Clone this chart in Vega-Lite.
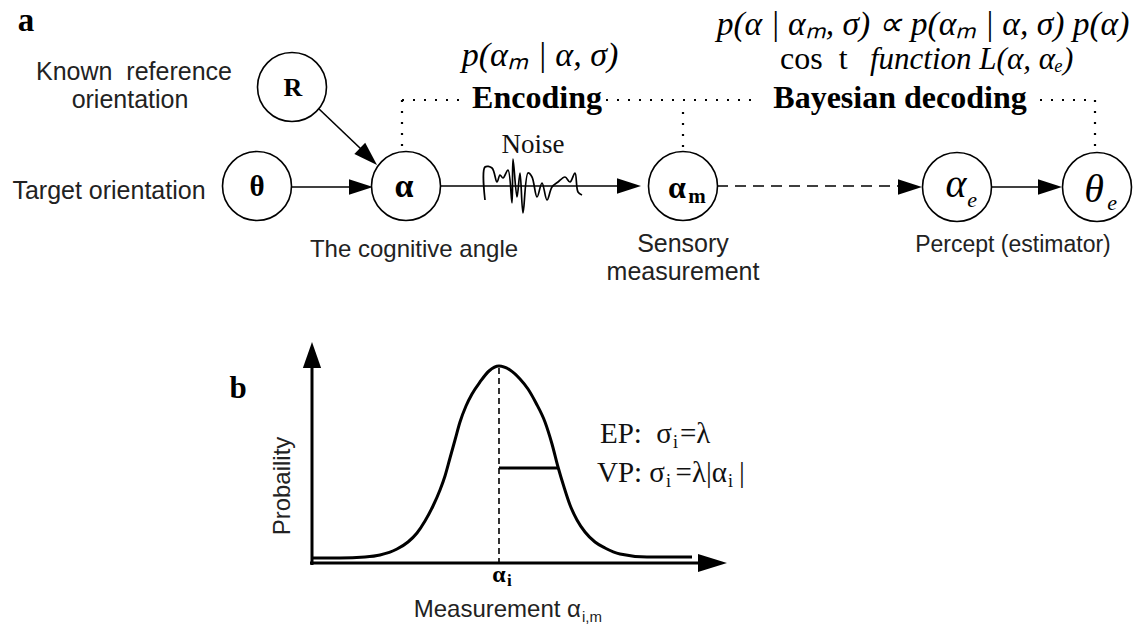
{
  "$schema": "https://vega.github.io/schema/vega-lite/v6.json",
  "width": 1143,
  "height": 625,
  "autosize": {"type": "none"},
  "padding": 0,
  "background": "white",
  "config": {"view": {"stroke": null}},
  "encoding": {
    "x": {"field": "x", "type": "quantitative", "scale": {"domain": [0, 1143], "nice": false, "zero": false}, "axis": null},
    "y": {"field": "y", "type": "quantitative", "scale": {"domain": [0, 625], "nice": false, "zero": false, "reverse": true}, "axis": null}
  },
  "layer": [
    {
      "data": {"values": [
        {"x": 292, "y": 187, "x2": 350, "y2": 187},
        {"x": 318, "y": 108, "x2": 361, "y2": 149},
        {"x": 440, "y": 186, "x2": 620, "y2": 186},
        {"x": 992, "y": 187, "x2": 1042, "y2": 187}
      ]},
      "mark": {"type": "rule", "color": "black", "strokeWidth": 1.6},
      "encoding": {"x2": {"field": "x2"}, "y2": {"field": "y2"}}
    },
    {
      "data": {"values": [{"x": 717, "y": 186, "x2": 900, "y2": 186}]},
      "mark": {"type": "rule", "color": "black", "strokeWidth": 1.6, "strokeDash": [11, 7]},
      "encoding": {"x2": {"field": "x2"}, "y2": {"field": "y2"}}
    },
    {
      "data": {"values": [
        {"x": 402, "y": 100, "x2": 468, "y2": 100},
        {"x": 606, "y": 100, "x2": 760, "y2": 100},
        {"x": 1040, "y": 100, "x2": 1095, "y2": 100},
        {"x": 402, "y": 100, "x2": 402, "y2": 152},
        {"x": 683, "y": 112, "x2": 683, "y2": 152},
        {"x": 1095, "y": 100, "x2": 1095, "y2": 152}
      ]},
      "mark": {"type": "rule", "color": "black", "strokeWidth": 2.2, "strokeDash": [2, 9]},
      "encoding": {"x2": {"field": "x2"}, "y2": {"field": "y2"}}
    },
    {
      "data": {"values": [
        {"x": 312, "y": 565, "x2": 312, "y2": 366},
        {"x": 310, "y": 563, "x2": 700, "y2": 563},
        {"x": 499, "y": 468, "x2": 558, "y2": 468}
      ]},
      "mark": {"type": "rule", "color": "black", "strokeWidth": 3},
      "encoding": {"x2": {"field": "x2"}, "y2": {"field": "y2"}}
    },
    {
      "data": {"values": [{"x": 499, "y": 368, "x2": 499, "y2": 563}]},
      "mark": {"type": "rule", "color": "black", "strokeWidth": 1.6, "strokeDash": [6, 4]},
      "encoding": {"x2": {"field": "x2"}, "y2": {"field": "y2"}}
    },
    {
      "data": {"values": [
        {"x": 312, "y": 558}, {"x": 340, "y": 558}, {"x": 365, "y": 557}, {"x": 380, "y": 555},
        {"x": 397, "y": 549}, {"x": 408, "y": 542}, {"x": 417, "y": 533}, {"x": 425, "y": 521},
        {"x": 433, "y": 506}, {"x": 440, "y": 490}, {"x": 445, "y": 476}, {"x": 450, "y": 458},
        {"x": 455, "y": 440}, {"x": 460, "y": 422}, {"x": 466, "y": 406}, {"x": 472, "y": 394},
        {"x": 480, "y": 382}, {"x": 489, "y": 371}, {"x": 499, "y": 366}, {"x": 510, "y": 370},
        {"x": 520, "y": 379}, {"x": 528, "y": 389}, {"x": 536, "y": 403}, {"x": 545, "y": 422},
        {"x": 552, "y": 444}, {"x": 558, "y": 467}, {"x": 564, "y": 487}, {"x": 570, "y": 505},
        {"x": 577, "y": 520}, {"x": 585, "y": 532}, {"x": 595, "y": 542}, {"x": 605, "y": 548},
        {"x": 620, "y": 554}, {"x": 647, "y": 557}, {"x": 670, "y": 557}, {"x": 692, "y": 557}
      ]},
      "mark": {"type": "line", "color": "black", "strokeWidth": 3, "interpolate": "monotone"}
    },
    {
      "data": {"values": [
        {"i": 1, "x": 485, "y": 200}, {"i": 2, "x": 485, "y": 167}, {"i": 3, "x": 492, "y": 168},
        {"i": 4, "x": 497, "y": 182}, {"i": 5, "x": 500, "y": 175}, {"i": 6, "x": 503, "y": 178},
        {"i": 7, "x": 508, "y": 170}, {"i": 8, "x": 512, "y": 203}, {"i": 9, "x": 513, "y": 159},
        {"i": 10, "x": 517, "y": 197}, {"i": 11, "x": 520, "y": 173}, {"i": 12, "x": 523, "y": 213},
        {"i": 13, "x": 528, "y": 173}, {"i": 14, "x": 532, "y": 177}, {"i": 15, "x": 537, "y": 197},
        {"i": 16, "x": 542, "y": 183}, {"i": 17, "x": 547, "y": 200}, {"i": 18, "x": 552, "y": 187},
        {"i": 19, "x": 558, "y": 182}, {"i": 20, "x": 565, "y": 177}, {"i": 21, "x": 570, "y": 182},
        {"i": 22, "x": 575, "y": 173}, {"i": 23, "x": 578, "y": 192}, {"i": 24, "x": 582, "y": 195}
      ]},
      "mark": {"type": "line", "color": "black", "strokeWidth": 1.7, "strokeJoin": "round", "interpolate": "catmull-rom"},
      "encoding": {"order": {"field": "i", "type": "quantitative"}}
    },
    {
      "data": {"values": [{"x": 361, "y": 187}, {"x": 629, "y": 186}, {"x": 910, "y": 187}, {"x": 1050, "y": 187}]},
      "mark": {"type": "point", "shape": "M1,0L-1,-0.65L-1,0.65Z", "size": 576, "filled": true, "color": "black", "opacity": 1}
    },
    {
      "data": {"values": [{"x": 368.4, "y": 156.7}]},
      "mark": {"type": "point", "shape": "M1,0L-1,-0.65L-1,0.65Z", "size": 576, "angle": 44, "filled": true, "color": "black", "opacity": 1}
    },
    {
      "data": {"values": [{"x": 712.5, "y": 563}]},
      "mark": {"type": "point", "shape": "M1,0L-1,-0.62L-1,0.62Z", "size": 841, "filled": true, "color": "black", "opacity": 1}
    },
    {
      "data": {"values": [{"x": 312, "y": 355}]},
      "mark": {"type": "point", "shape": "M1,0L-1,-0.7L-1,0.7Z", "size": 676, "angle": -90, "filled": true, "color": "black", "opacity": 1}
    },
    {
      "data": {"values": [
        {"x": 292, "y": 87}, {"x": 257, "y": 186}, {"x": 406, "y": 186},
        {"x": 683, "y": 186}, {"x": 957, "y": 187}, {"x": 1097, "y": 187}
      ]},
      "mark": {"type": "point", "shape": "circle", "size": 4761, "filled": true, "fill": "white", "stroke": "black", "strokeWidth": 1.6, "opacity": 1}
    },
    {
      "data": {"values": [
        {"x": 134, "y": 80, "t": "Known\u00a0\u00a0reference"},
        {"x": 130, "y": 108, "t": "orientation"},
        {"x": 109, "y": 199, "t": "Target orientation"},
        {"x": 683, "y": 252, "t": "Sensory"},
        {"x": 683, "y": 280, "t": "measurement"}
      ]},
      "mark": {"type": "text", "font": "Liberation Sans", "fontSize": 25, "align": "center", "baseline": "alphabetic", "color": "#222"},
      "encoding": {"text": {"field": "t"}}
    },
    {
      "data": {"values": [{"x": 414, "y": 257, "t": "The cognitive angle"}]},
      "mark": {"type": "text", "font": "Liberation Sans", "fontSize": 24, "align": "center", "baseline": "alphabetic", "color": "#222"},
      "encoding": {"text": {"field": "t"}}
    },
    {
      "data": {"values": [{"x": 1013, "y": 252, "t": "Percept (estimator)"}]},
      "mark": {"type": "text", "font": "Liberation Sans", "fontSize": 23, "align": "center", "baseline": "alphabetic", "color": "#222"},
      "encoding": {"text": {"field": "t"}}
    },
    {
      "data": {"values": [{"x": 283, "y": 486, "t": "Probaility"}]},
      "mark": {"type": "text", "font": "Liberation Sans", "fontSize": 24, "align": "center", "baseline": "middle", "angle": 270, "color": "#222"},
      "encoding": {"text": {"field": "t"}}
    },
    {
      "data": {"values": [{"x": 581, "y": 617, "t": "Measurement α"}]},
      "mark": {"type": "text", "font": "Liberation Sans", "fontSize": 24, "align": "right", "baseline": "alphabetic", "color": "#222"},
      "encoding": {"text": {"field": "t"}}
    },
    {
      "data": {"values": [{"x": 582, "y": 622, "t": "i,m"}]},
      "mark": {"type": "text", "font": "Liberation Sans", "fontSize": 15, "align": "left", "baseline": "alphabetic", "color": "#222"},
      "encoding": {"text": {"field": "t"}}
    },
    {
      "data": {"values": [{"x": 26, "y": 31, "t": "a"}]},
      "mark": {"type": "text", "font": "Liberation Serif", "fontWeight": "bold", "fontSize": 33, "align": "center", "baseline": "alphabetic", "color": "black"},
      "encoding": {"text": {"field": "t"}}
    },
    {
      "data": {"values": [{"x": 238, "y": 398, "t": "b"}]},
      "mark": {"type": "text", "font": "Liberation Serif", "fontWeight": "bold", "fontSize": 31, "align": "center", "baseline": "alphabetic", "color": "black"},
      "encoding": {"text": {"field": "t"}}
    },
    {
      "data": {"values": [
        {"x": 537, "y": 108, "t": "Encoding"},
        {"x": 900, "y": 108, "t": "Bayesian decoding"}
      ]},
      "mark": {"type": "text", "font": "Liberation Serif", "fontWeight": "bold", "fontSize": 32, "align": "center", "baseline": "alphabetic", "color": "black"},
      "encoding": {"text": {"field": "t"}}
    },
    {
      "data": {"values": [{"x": 293, "y": 96, "t": "R"}]},
      "mark": {"type": "text", "font": "Liberation Serif", "fontWeight": "bold", "fontSize": 26, "align": "center", "baseline": "alphabetic", "color": "black"},
      "encoding": {"text": {"field": "t"}}
    },
    {
      "data": {"values": [{"x": 257, "y": 196, "t": "θ"}]},
      "mark": {"type": "text", "font": "Liberation Serif", "fontWeight": "bold", "fontSize": 29, "align": "center", "baseline": "alphabetic", "color": "black"},
      "encoding": {"text": {"field": "t"}}
    },
    {
      "data": {"values": [{"x": 404, "y": 197, "t": "α"}]},
      "mark": {"type": "text", "font": "Liberation Serif", "fontWeight": "bold", "fontSize": 34, "align": "center", "baseline": "alphabetic", "color": "black"},
      "encoding": {"text": {"field": "t"}}
    },
    {
      "data": {"values": [{"x": 677, "y": 198, "t": "α"}]},
      "mark": {"type": "text", "font": "Liberation Serif", "fontWeight": "bold", "fontSize": 32, "align": "center", "baseline": "alphabetic", "color": "black"},
      "encoding": {"text": {"field": "t"}}
    },
    {
      "data": {"values": [{"x": 697, "y": 203, "t": "m"}]},
      "mark": {"type": "text", "font": "Liberation Serif", "fontWeight": "bold", "fontSize": 21, "align": "center", "baseline": "alphabetic", "color": "black"},
      "encoding": {"text": {"field": "t"}}
    },
    {
      "data": {"values": [{"x": 499, "y": 582, "t": "α"}]},
      "mark": {"type": "text", "font": "Liberation Serif", "fontWeight": "bold", "fontSize": 24, "align": "center", "baseline": "alphabetic", "color": "black"},
      "encoding": {"text": {"field": "t"}}
    },
    {
      "data": {"values": [{"x": 507, "y": 586, "t": "i"}]},
      "mark": {"type": "text", "font": "Liberation Serif", "fontWeight": "bold", "fontSize": 17, "align": "left", "baseline": "alphabetic", "color": "black"},
      "encoding": {"text": {"field": "t"}}
    },
    {
      "data": {"values": [{"x": 956, "y": 197, "t": "α"}, {"x": 1094, "y": 202, "t": "θ"}]},
      "mark": {"type": "text", "font": "Liberation Serif", "fontStyle": "italic", "fontSize": 40, "align": "center", "baseline": "alphabetic", "color": "black"},
      "encoding": {"text": {"field": "t"}}
    },
    {
      "data": {"values": [{"x": 972, "y": 207, "t": "e"}, {"x": 1112, "y": 210, "t": "e"}]},
      "mark": {"type": "text", "font": "Liberation Serif", "fontStyle": "italic", "fontSize": 22, "align": "center", "baseline": "alphabetic", "color": "black"},
      "encoding": {"text": {"field": "t"}}
    },
    {
      "data": {"values": [{"x": 533, "y": 153, "t": "Noise"}]},
      "mark": {"type": "text", "font": "Liberation Serif", "fontSize": 27, "align": "center", "baseline": "alphabetic", "color": "#111"},
      "encoding": {"text": {"field": "t"}}
    },
    {
      "data": {"values": [{"x": 540, "y": 66, "t": "p(αₘ | α, σ)"}]},
      "mark": {"type": "text", "font": "Liberation Serif", "fontStyle": "italic", "fontSize": 34, "align": "center", "baseline": "alphabetic", "color": "black"},
      "encoding": {"text": {"field": "t"}}
    },
    {
      "data": {"values": [{"x": 923, "y": 35, "t": "p(α | αₘ, σ) ∝ p(αₘ | α, σ) p(α)"}]},
      "mark": {"type": "text", "font": "Liberation Serif", "fontStyle": "italic", "fontSize": 33.5, "align": "center", "baseline": "alphabetic", "color": "black"},
      "encoding": {"text": {"field": "t"}}
    },
    {
      "data": {"values": [{"x": 870, "y": 69, "t": "function L(α, αₑ)"}]},
      "mark": {"type": "text", "font": "Liberation Serif", "fontStyle": "italic", "fontSize": 31, "align": "left", "baseline": "alphabetic", "color": "black"},
      "encoding": {"text": {"field": "t"}}
    },
    {
      "data": {"values": [{"x": 780, "y": 69, "t": "cos\u00a0\u00a0t"}]},
      "mark": {"type": "text", "font": "Liberation Serif", "fontSize": 32, "align": "left", "baseline": "alphabetic", "color": "black"},
      "encoding": {"text": {"field": "t"}}
    },
    {
      "data": {"values": [{"x": 672, "y": 443, "t": "EP:\u00a0\u00a0σ"}, {"x": 665, "y": 482, "t": "VP: σ"}]},
      "mark": {"type": "text", "font": "Liberation Serif", "fontSize": 29, "align": "right", "baseline": "alphabetic", "color": "#111"},
      "encoding": {"text": {"field": "t"}}
    },
    {
      "data": {"values": [{"x": 680, "y": 443, "t": "=λ"}, {"x": 739, "y": 482, "t": "|"}]},
      "mark": {"type": "text", "font": "Liberation Serif", "fontSize": 29, "align": "left", "baseline": "alphabetic", "color": "#111"},
      "encoding": {"text": {"field": "t"}}
    },
    {
      "data": {"values": [{"x": 727, "y": 482, "t": "=λ|α"}]},
      "mark": {"type": "text", "font": "Liberation Serif", "fontSize": 29, "align": "right", "baseline": "alphabetic", "color": "#111"},
      "encoding": {"text": {"field": "t"}}
    },
    {
      "data": {"values": [{"x": 673, "y": 448, "t": "i"}, {"x": 666, "y": 487, "t": "i"}, {"x": 728, "y": 487, "t": "i"}]},
      "mark": {"type": "text", "font": "Liberation Serif", "fontSize": 18, "align": "left", "baseline": "alphabetic", "color": "#111"},
      "encoding": {"text": {"field": "t"}}
    }
  ]
}
